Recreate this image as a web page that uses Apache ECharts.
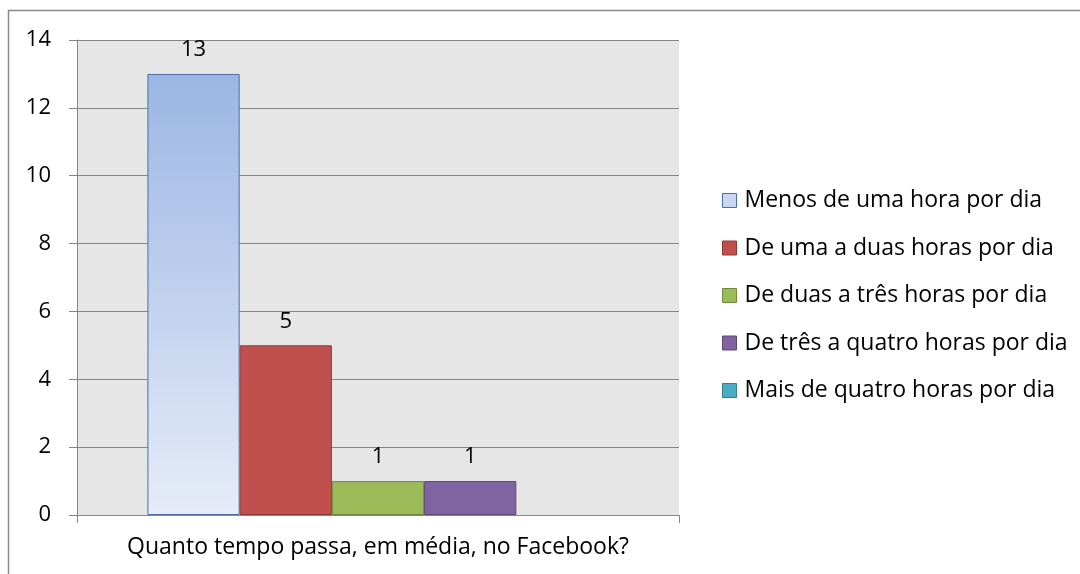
<!DOCTYPE html>
<html><head><meta charset="utf-8">
<script src="https://cdn.jsdelivr.net/npm/echarts@6/dist/echarts.min.js"></script>
<style>html,body{margin:0;padding:0;background:#fff}#c{width:1080px;height:574px}</style>
</head><body><div id="c"></div>
<script>
const categories = ['Quanto tempo passa, em média, no Facebook?'];
const seriesNames = ['Menos de uma hora por dia','De uma a duas horas por dia','De duas a três horas por dia','De três a quatro horas por dia','Mais de quatro horas por dia'];
const seriesValues = [13, 5, 1, 1, 0];
const yTicks = [0, 2, 4, 6, 8, 10, 12, 14];

const fills = [
  {type:'linear',x:0,y:0,x2:0,y2:1,colorStops:[{offset:0,color:'#9bb6e4'},{offset:1,color:'#e6ecf8'}]},
  '#c0504d','#9bbb59','#8064a2','#4bacc6'
];
const borders = ['#4a6fa8','#8c3a38','#71893f','#5c4776','#357d91'];
const legendFills = ['#c9d8f0','#c0504d','#9bbb59','#8064a2','#4bacc6'];
const FONT = 'Open Sans';

const chart = echarts.init(document.getElementById('c'));
chart.setOption({
  animation:false,
  textStyle:{fontFamily:FONT},
  graphic:[{type:'rect',shape:{x:8.5,y:10.5,width:1100,height:600},style:{fill:null,stroke:'#8a8a8a',lineWidth:1.5},z:-10}],
  grid:{left:77,right:401,top:40,bottom:59,show:true,backgroundColor:'#e6e6e6',borderWidth:0},
  legend:{
    orient:'vertical',left:722,top:189,padding:0,itemWidth:14,itemHeight:14,itemGap:24.5,
    textStyle:{fontFamily:FONT,fontSize:23,color:'#000',padding:[0,0,0,3]},
    data:seriesNames.map((n,i)=>({name:n,icon:'rect',itemStyle:{color:legendFills[i],borderColor:borders[i],borderWidth:1}}))
  },
  xAxis:{
    type:'category',data:categories,
    axisLine:{lineStyle:{color:'#868686',width:1}},
    axisTick:{show:true,length:8,alignWithLabel:false,lineStyle:{color:'#868686'}},
    axisLabel:{fontFamily:FONT,fontSize:23,color:'#000',margin:21},
    splitLine:{show:false}
  },
  yAxis:{
    type:'value',min:yTicks[0],max:yTicks[yTicks.length-1],interval:2,
    axisLine:{show:true,lineStyle:{color:'#868686'}},
    axisTick:{show:true,length:8,lineStyle:{color:'#868686'}},
    axisLabel:{fontFamily:FONT,fontSize:22,color:'#000',margin:26},
    splitLine:{lineStyle:{color:'#868686',width:1}}
  },
  series:seriesNames.map((n,i)=>({
    name:n,type:'bar',data:[seriesValues[i]],
    barGap:'0%',barCategoryGap:'23.4%',
    itemStyle:{color:fills[i],borderColor:borders[i],borderWidth:seriesValues[i]===0?0:1},
    label:{show:seriesValues[i]!==0,position:'top',distance:13,fontFamily:FONT,fontSize:22,color:'#000'}
  }))
});
</script></body></html>
